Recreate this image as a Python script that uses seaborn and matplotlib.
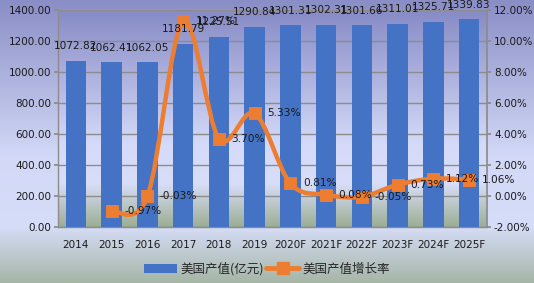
import numpy as np
import pandas as pd
import matplotlib
matplotlib.use("Agg")
import matplotlib.pyplot as plt
import seaborn as sns
from matplotlib.path import Path
from matplotlib.patches import PathPatch, Patch
from matplotlib.lines import Line2D
from matplotlib.colors import LinearSegmentedColormap
from matplotlib.ticker import FuncFormatter, MultipleLocator

years = ["2014", "2015", "2016", "2017", "2018", "2019",
         "2020F", "2021F", "2022F", "2023F", "2024F", "2025F"]
output_value = [1072.82, 1062.41, 1062.05, 1181.79, 1225.51, 1290.84,
                1301.31, 1302.31, 1301.66, 1311.01, 1325.71, 1339.83]
growth_years = years[1:]
growth_rate = [-0.97, -0.03, 11.27, 3.70, 5.33, 0.81, 0.08, -0.05, 0.73, 1.12, 1.06]

bar_label = "美国产值(亿元)"
line_label = "美国产值增长率"

sns.set_theme(style="white")
plt.rcParams['font.family'] = ['DejaVu Sans', 'Noto Sans CJK SC']

W, H = 534, 283
fig = plt.figure(figsize=(W / 100, H / 100), dpi=100)

# figure background gradient
bg = fig.add_axes([0, 0, 1, 1], zorder=-10)
bg_cmap = LinearSegmentedColormap.from_list(
    "bg", [(0.0, "#8a8ec6"), (0.55, "#d2d8f6"), (0.80, "#d6ddf8"), (1.0, "#a6b6a6")])
bg.imshow(np.linspace(0, 1, 256).reshape(-1, 1), aspect="auto", cmap=bg_cmap,
          extent=[0, 1, 0, 1], origin="upper")
bg.set_axis_off()

left, right, top, bottom = 58, 487, 10, 227
ax = fig.add_axes([left / W, 1 - bottom / H, (right - left) / W, (bottom - top) / H])
ax.set_facecolor("none")

df = pd.DataFrame({"year": years, "value": output_value})
sns.barplot(data=df, x="year", y="value", color="#4472C4", width=0.58,
            saturation=1, ax=ax, zorder=3, edgecolor="none", linewidth=0)
ax.set_ylim(0, 1400)
ax.set_xlim(-0.5, len(years) - 0.5)

# plot area gradient
pa_cmap = LinearSegmentedColormap.from_list(
    "pa", [(0.0, "#878bc6"), (0.62, "#d4daf8"), (0.80, "#d8def8"), (1.0, "#9cae94")])
ax.imshow(np.linspace(0, 1, 256).reshape(-1, 1), aspect="auto", cmap=pa_cmap,
          extent=[-0.5, len(years) - 0.5, 0, 1400], origin="upper", zorder=0)

ax.yaxis.set_major_locator(MultipleLocator(200))
ax.yaxis.set_major_formatter(FuncFormatter(lambda v, p: f"{v:.2f}"))
ax.grid(axis="y", color="#8c8c8c", linewidth=1, zorder=1)
ax.set_axisbelow(False)
ax.set_xlabel("")
ax.set_ylabel("")
for s in ["left", "bottom"]:
    ax.spines[s].set_color("#8c8c8c")
    ax.spines[s].set_linewidth(1)
for s in ["top", "right"]:
    ax.spines[s].set_visible(False)
ax.tick_params(axis="y", labelsize=7.5, colors="#8c8c8c", labelcolor="#1a1a1a",
               length=3, direction="out", left=True, pad=2)
ax.tick_params(axis="x", labelsize=7.5, labelcolor="#1a1a1a", length=0, pad=9)

# secondary axis
ax2 = ax.twinx()
ax2.set_ylim(-2, 12)
ax2.yaxis.set_major_locator(MultipleLocator(2))
ax2.yaxis.set_major_formatter(FuncFormatter(lambda v, p: f"{v:.2f}%"))
for s in ["left", "top", "bottom"]:
    ax2.spines[s].set_visible(False)
ax2.spines["right"].set_color("#8c8c8c")
ax2.tick_params(axis="y", labelsize=7.5, colors="#8c8c8c", labelcolor="#1a1a1a",
                length=3, direction="out", right=True, pad=2)
ax2.grid(False)

xs = np.array([years.index(y) for y in growth_years], dtype=float)
ys = np.array(growth_rate, dtype=float)

# smooth (Catmull-Rom as cubic Bezier) path through the data points
pts = np.column_stack([xs, ys])
verts = [pts[0]]
codes = [Path.MOVETO]
n = len(pts)
for i in range(n - 1):
    p0 = pts[i - 1] if i > 0 else pts[i]
    p1 = pts[i]
    p2 = pts[i + 1]
    p3 = pts[i + 2] if i + 2 < n else pts[i + 1]
    c1 = p1 + (p2 - p0) / 6.0
    c2 = p2 - (p3 - p1) / 6.0
    verts += [c1, c2, p2]
    codes += [Path.CURVE4] * 3
ax2.add_patch(PathPatch(Path(verts, codes), facecolor="none", edgecolor="#ED7D31",
                        linewidth=3.2, zorder=4, capstyle="round", joinstyle="round"))

gdf = pd.DataFrame({"x": xs, "rate": ys})
sns.scatterplot(data=gdf, x="x", y="rate", marker="s", s=75, color="#ED7D31",
                edgecolor="#ED7D31", ax=ax2, zorder=5, legend=False)
ax2.set_xlabel("")
ax2.set_ylabel("")
ax2.set_xlim(-0.5, len(years) - 0.5)

# bar value labels (drawn on the top axes so they sit above the line)
for i, v in enumerate(output_value):
    ax2.annotate(f"{v:.2f}", (i, v), xycoords=ax.transData, xytext=(0, 7),
                 textcoords="offset points", ha="center", va="bottom",
                 fontsize=7.6, color="#1a1a1a", zorder=6, annotation_clip=False)

for x, y in zip(xs, ys):
    ax2.annotate(f"{y:.2f}%", (x, y), xytext=(9, 0), textcoords="offset points",
                 ha="left", va="center", fontsize=7.6, color="#1a1a1a", zorder=6)

# legend
handles = [Patch(facecolor="#4472C4", edgecolor="none"),
           Line2D([0], [0], color="#ED7D31", lw=3.5, marker="s", markersize=8)]
fig.legend(handles, [bar_label, line_label], loc="center", bbox_to_anchor=(0.5, 1 - 269 / H),
           ncol=2, frameon=False, handlelength=2.6, handleheight=0.7, handletextpad=0.3,
           columnspacing=0.2,
           prop={"family": ["Noto Sans CJK SC", "DejaVu Sans"], "size": 9})

fig.savefig("out.png", dpi=100)
